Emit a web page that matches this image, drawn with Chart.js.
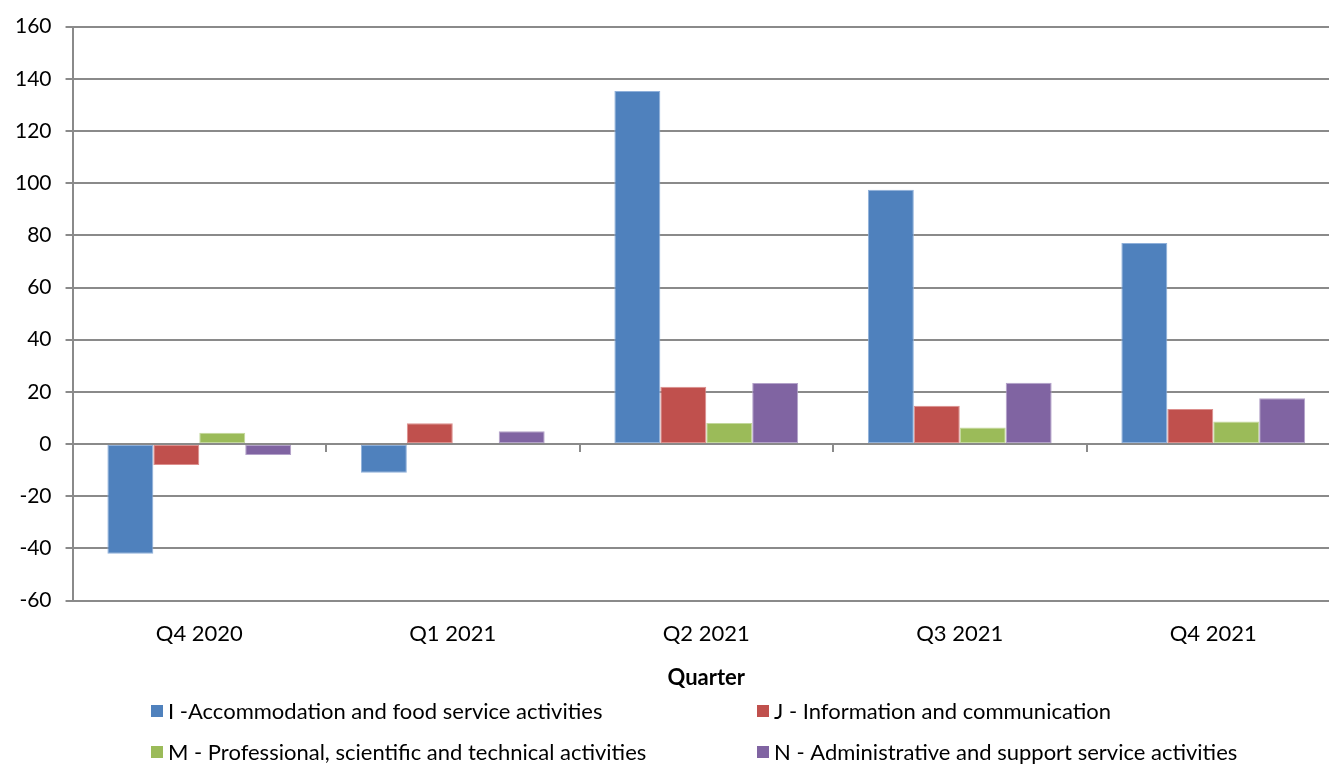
<!DOCTYPE html>
<html>
<head>
<meta charset="utf-8">
<script src="https://cdn.jsdelivr.net/npm/chart.js@4.4.0/dist/chart.umd.min.js"></script>
<style>
  html, body { margin: 0; padding: 0; background: #ffffff; overflow: hidden; }
  #wrap { position: relative; width: 1342px; height: 765px; }
</style>
</head>
<body>
<div id="wrap"><canvas id="c"></canvas></div>
<script>
// ---- data ----
const categories = ["Q4 2020", "Q1 2021", "Q2 2021", "Q3 2021", "Q4 2021"];
const seriesNames = [
  "I -Accommodation and food service activities",
  "J - Information and communication",
  "M - Professional, scientific and technical activities",
  "N - Administrative and support service activities"
];
const seriesI = [-42, -11, 135.3, 97.5, 77.1];
const seriesJ = [-8, 8, 22, 14.7, 13.4];
const seriesM = [4.3, 0, 8.1, 6.3, 8.6];
const seriesN = [-4.2, 4.9, 23.4, 23.5, 17.6];
const yMin = -60, yMax = 160, yStep = 20;
const xTitle = "Quarter";

// ---- styles ----
const fills = ["#4F81BD", "#C0504D", "#9BBB59", "#8064A2"];
const edges = ["#8fb0da", "#dc8f8d", "#c3d89c", "#b3a2c9"];
const gridColor = "#8a8a8a";
const FONT = "Lato, 'Open Sans', sans-serif";

const seriesValues = [seriesI, seriesJ, seriesM, seriesN];

const legendPlugin = {
  id: "excelLegend",
  afterDraw(chart) {
    const ctx = chart.ctx;
    const cols = [151, 757];
    const rows = [711, 752];
    ctx.save();
    ctx.font = "22px " + FONT;
    ctx.textBaseline = "middle";
    ctx.textAlign = "left";
    chart.data.datasets.forEach((ds, i) => {
      const x = cols[i % 2];
      const y = rows[Math.floor(i / 2)];
      ctx.fillStyle = ds.backgroundColor;
      ctx.fillRect(x, y - 6, 12, 12);
      ctx.fillStyle = "#000000";
      ctx.fillText(ds.label, x + 17, y + 1);
    });
    ctx.restore();
  }
};

new Chart(document.getElementById("c"), {
  type: "bar",
  data: {
    labels: categories,
    datasets: seriesNames.map((name, i) => ({
      label: name,
      data: seriesValues[i],
      backgroundColor: fills[i],
      borderColor: edges[i],
      borderWidth: 1,
      borderSkipped: false,
      categoryPercentage: 0.725,
      barPercentage: 1.0
    }))
  },
  options: {
    responsive: true,
    maintainAspectRatio: false,
    animation: false,
    devicePixelRatio: 1,
    layout: { padding: { left: 1, right: 2, top: 25, bottom: 76 } },
    plugins: {
      legend: { display: false },
      tooltip: { enabled: false },
      title: { display: false }
    },
    scales: {
      x: {
        type: "category",
        grid: { display: false, drawTicks: false },
        border: { display: false },
        ticks: { color: "#000", font: { family: FONT, size: 22 }, padding: 20 },
        title: {
          display: true, text: xTitle, color: "#000",
          font: { family: FONT, size: 22, weight: "bold", lineHeight: 1 },
          padding: { top: 0, bottom: 0 }
        }
      },
      x2: {
        type: "category",
        labels: categories,
        position: { y: 0 },
        offset: true,
        grid: { display: true, offset: true, drawOnChartArea: false, drawTicks: true, tickLength: 7, color: gridColor, lineWidth: 2 },
        border: { display: true, color: gridColor, width: 2 },
        ticks: { display: false }
      },
      y: {
        min: yMin, max: yMax,
        ticks: { stepSize: yStep, color: "#000", font: { family: FONT, size: 21 }, padding: 14 },
        grid: { color: gridColor, lineWidth: 2, tickLength: 7, drawTicks: true },
        border: { display: true, color: gridColor, width: 2 }
      }
    }
  },
  plugins: [legendPlugin]
});
</script>
</body>
</html>
